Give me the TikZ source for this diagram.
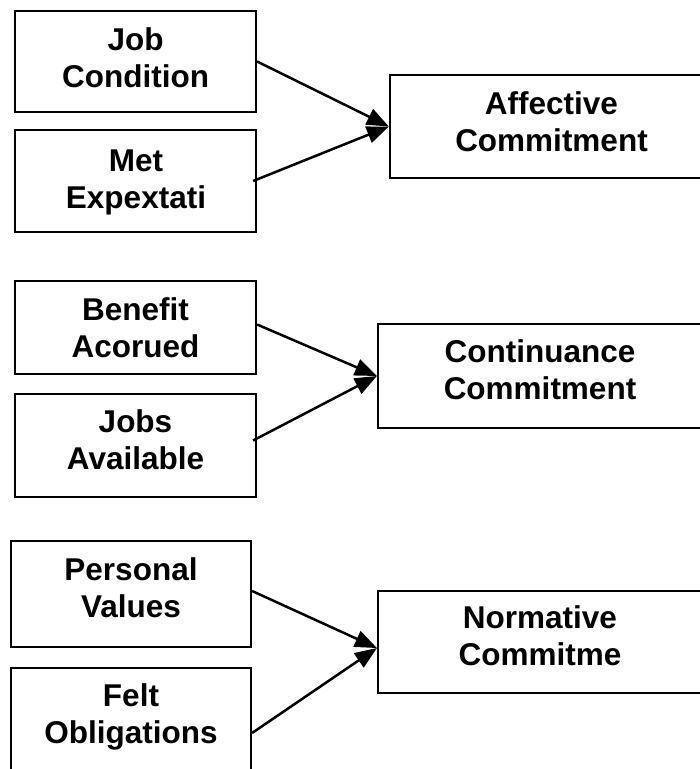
\documentclass[tikz,border=0pt]{standalone}
\usepackage{fontspec}
\setmainfont{Liberation Sans}
\usetikzlibrary{arrows.meta}
\tikzset{
  box/.style args={#1x#2}{draw, line width=2.2pt, inner sep=0pt, minimum width=#1pt, minimum height=#2pt},
  lbl/.style={anchor=base, align=center, inner sep=0pt, font=\fontsize{31.5}{36.5}\selectfont\bfseries},
  arr/.style={line width=2.5pt, -{Triangle[length=22pt,width=17pt]}}
}
\begin{document}
\begin{tikzpicture}[x=1pt,y=-1pt]
\useasboundingbox (0,0) rectangle (700,769);
\clip (0,0) rectangle (700,769);
% boxes
\node[box=241x101] (jc) at (135.5,61.5) {};
\node[box=241x102] (me) at (135.5,181) {};
\node[box=323x103] (ac) at (551.5,126.5) {};
\node[box=241x93]  (ba) at (135.5,327.5) {};
\node[box=241x103] (ja) at (135.5,445.5) {};
\node[box=324x104] (cc) at (540,376) {};
\node[box=240x106] (pv) at (131,594) {};
\node[box=240x130] (fo) at (131,733) {};
\node[box=324x102] (nc) at (540,642) {};
% labels (anchor = baseline of the last line)
\node[lbl] (jcT) at (135.5,87) {Job\\Condition};
\node[lbl] (meT) at (136,208) {Met\\Expextati};
\node[lbl] (acT) at (551.5,151) {Affective\\Commitment};
\node[lbl] (baT) at (135.5,357) {Benefit\\Acorued};
\node[lbl] (jaT) at (135.5,469) {Jobs\\Available};
\node[lbl] (ccT) at (540,399) {Continuance\\Commitment};
\node[lbl] (pvT) at (131,617) {Personal\\Values};
\node[lbl] (foT) at (131,743) {Felt\\Obligations};
\node[lbl] (ncT) at (540,665) {Normative\\Commitme};
% connectors
\draw[arr] (jc.east) -- (ac.west);
\draw[arr] ([xshift=-4pt]me.east) -- (ac.west);
\draw[arr] ([yshift=3pt]ba.east) -- (cc.west);
\draw[arr] ([xshift=-4pt,yshift=5pt]ja.east) -- (cc.west);
\draw[arr] ([yshift=3pt]pv.east) -- ([yshift=-6pt]nc.west);
\draw[arr] (fo.east) -- ([yshift=-6pt]nc.west);
\end{tikzpicture}
\end{document}
